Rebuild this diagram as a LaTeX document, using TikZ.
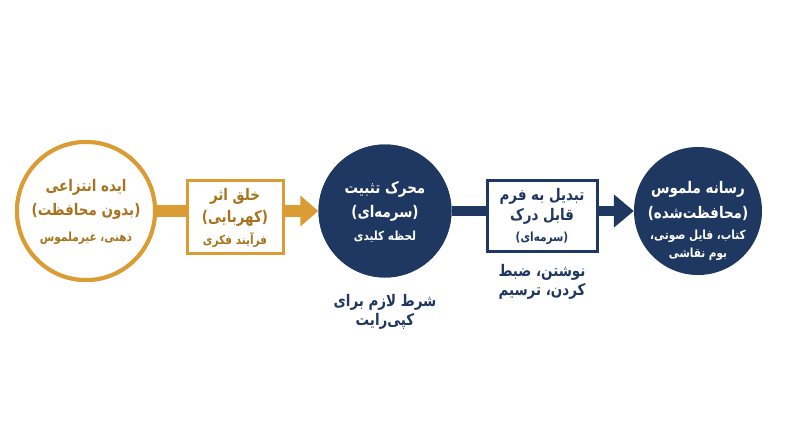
\documentclass[tikz,border=0pt]{standalone}
\usepackage{fontspec}
\usetikzlibrary{arrows.meta}
\TeXXeTstate=1
\newfontfamily\fa[Script=Arabic, FakeStretch=0.84]{DejaVu Sans}
\definecolor{gold}{HTML}{DB9C34}
\definecolor{goldtxt}{HTML}{A8731C}
\definecolor{navy}{HTML}{1F3861}
\newcommand{\RL}[1]{\beginR #1\endR}
\begin{document}
\begin{tikzpicture}[x=1pt,y=-1pt,
  big/.style={font=\fa\bfseries\fontsize{16}{18}\selectfont, inner sep=0pt},
  small/.style={font=\fa\bfseries\fontsize{12.5}{14}\selectfont, inner sep=0pt},
  goldcirc/.style={circle, draw=gold, line width=4pt, fill=white, inner sep=0pt},
  navycirc/.style={circle, fill=navy, inner sep=0pt},
  goldbox/.style={rectangle, draw=gold, line width=3pt, fill=white, inner sep=0pt},
  navybox/.style={rectangle, draw=navy, line width=3pt, fill=white, inner sep=0pt},
  goldbar/.style={draw=gold, line width=12pt},
  navybar/.style={draw=navy, line width=10pt}
]
\useasboundingbox (0,0) rectangle (800,447);
\fill[white] (0,0) rectangle (800,447);
% shapes
\node[goldcirc, minimum size=138pt] (c1) at (86,211) {};
\node[goldbox, minimum width=96pt, minimum height=73pt] (b1) at (235,216.5) {};
\node[navycirc, minimum size=133pt] (c2) at (385,211) {};
\node[navybox, minimum width=110pt, minimum height=71pt] (b2) at (542,215.5) {};
\node[navycirc, minimum size=128pt] (c3) at (698,211) {};
% connectors
\draw[goldbar] (c1.east) -- (b1.west |- c1.east);
\draw[goldbar, -{Triangle[length=18pt,width=30pt]}] (b1.east |- c1.east) -- (c2.west);
\draw[navybar] (c2.east) -- (b2.west |- c2.east);
\draw[navybar, -{Triangle[length=20pt,width=32pt]}] (b2.east |- c2.east) -- (c3.west);
% redraw shapes on top of bars
\node[goldcirc, minimum size=138pt] at (c1) {};
\node[goldbox, minimum width=96pt, minimum height=73pt] at (b1) {};
\node[navycirc, minimum size=133pt] at (c2) {};
\node[navybox, minimum width=110pt, minimum height=71pt] at (b2) {};
% texts circle 1
\node[big, text=goldtxt] (t1a) at (86,187) {\RL{ایده انتزاعی}};
\node[big, text=goldtxt] (t1b) at (86,211) {\RL{(بدون محافظت)}};
\node[small, text=goldtxt] (t1c) at (86,238) {\RL{ذهنی، غیرملموس}};
% box 1
\node[big, text=goldtxt] (t2a) at (235,196) {\RL{خلق اثر}};
\node[big, text=goldtxt] (t2b) at (235,218) {\RL{(کهربایی)}};
\node[small, text=goldtxt] (t2c) at (235,240) {\RL{فرآیند فکری}};
% circle 2
\node[big, text=white] (t3a) at (385,189) {\RL{محرک تثبیت}};
\node[big, text=white] (t3b) at (385,213) {\RL{(سرمه‌ای)}};
\node[small, text=white] (t3c) at (385,237) {\RL{لحظه کلیدی}};
\node[big, text=navy] (t3d) at (385,302) {\RL{شرط لازم برای}};
\node[big, text=navy] (t3e) at (385,321) {\RL{کپی‌رایت}};
% box 2
\node[big, text=navy] (t4a) at (542,196) {\RL{تبدیل به فرم}};
\node[big, text=navy] (t4b) at (542,216) {\RL{قابل درک}};
\node[small, text=navy] (t4c) at (542,238) {\RL{(سرمه‌ای)}};
\node[big, text=navy] (t4d) at (542,272) {\RL{نوشتن، ضبط}};
\node[big, text=navy] (t4e) at (542,291) {\RL{کردن، ترسیم}};
% circle 3
\node[big, text=white] (t5a) at (698,189) {\RL{رسانه ملموس}};
\node[big, text=white] (t5b) at (698,213) {\RL{(محافظت‌شده)}};
\node[small, text=white] (t5c) at (698,236) {\RL{کتاب، فایل صوتی،}};
\node[small, text=white] (t5d) at (698,254) {\RL{بوم نقاشی}};
\end{tikzpicture}
\end{document}
